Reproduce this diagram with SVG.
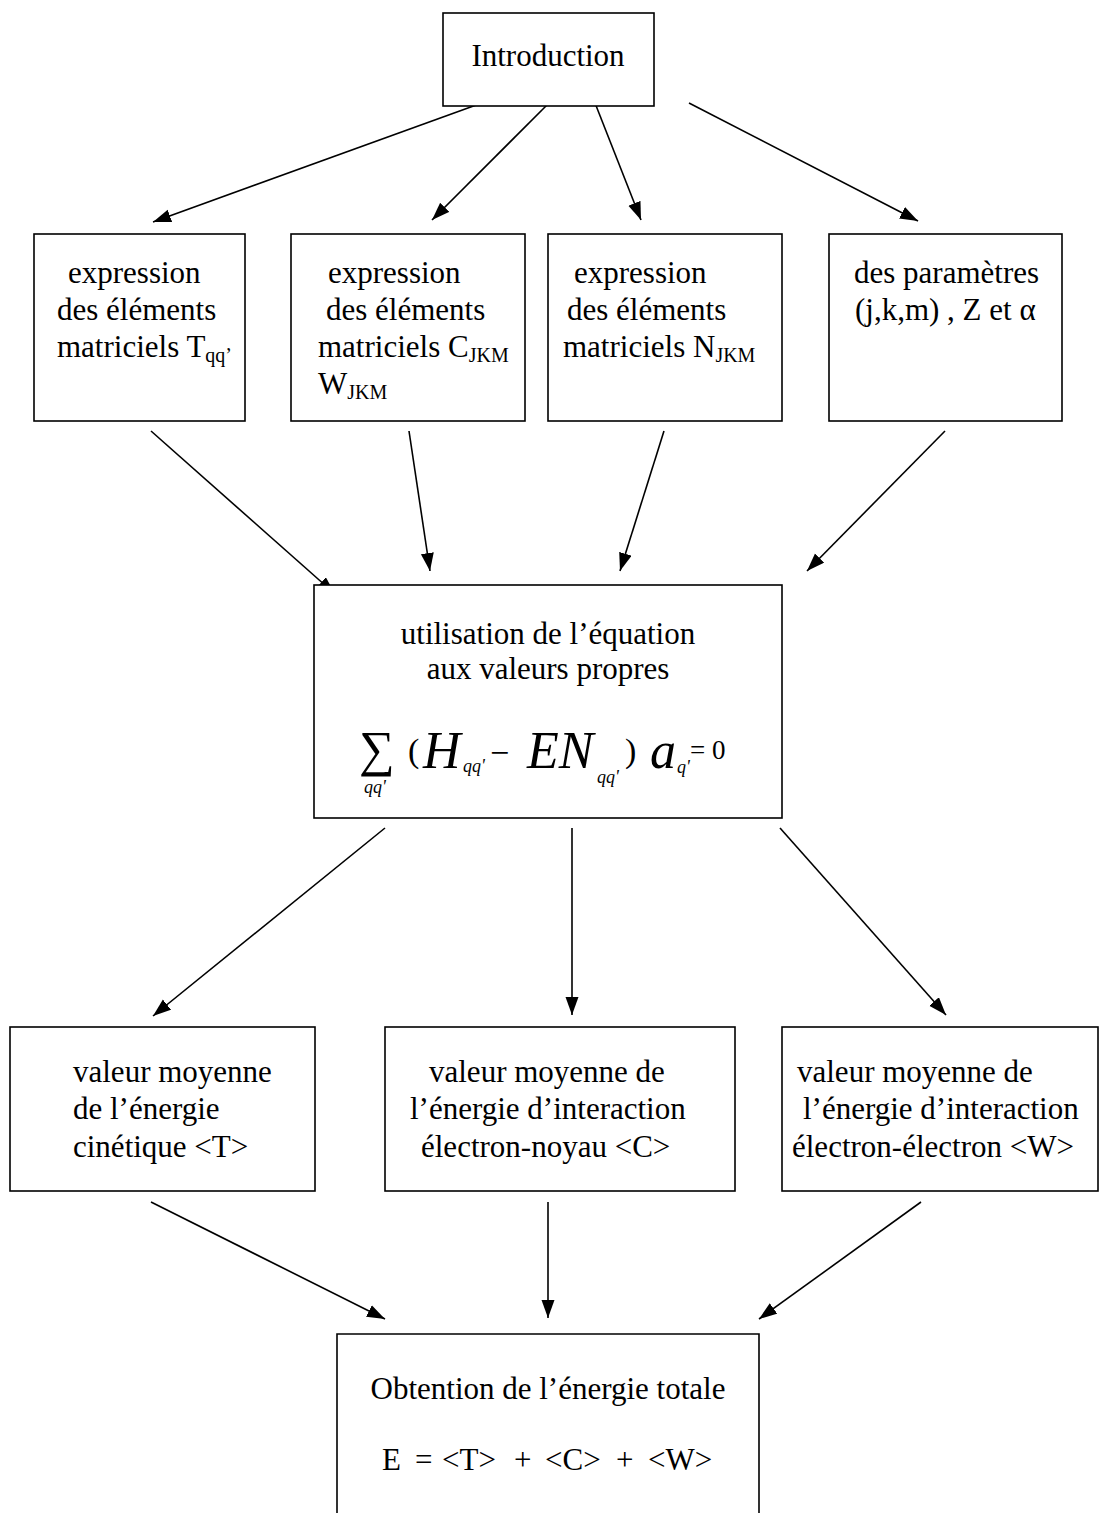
<svg xmlns="http://www.w3.org/2000/svg" width="1099" height="1513" viewBox="0 0 1099 1513">
<style>
.box{fill:#fff;stroke:#000;stroke-width:1.6}
.t{font-family:"Liberation Serif","Times New Roman",serif;font-size:31px;fill:#000}
.c{text-anchor:middle}
.sub{font-size:20px}
.i{font-style:italic}
.edge{stroke:#000;stroke-width:1.6;fill:none;marker-end:url(#ah)}
</style>
<defs>
<marker id="ah" markerUnits="userSpaceOnUse" markerWidth="20" markerHeight="14" refX="18" refY="6.5" orient="auto">
<path d="M0,0 L18,6.5 L0,13 z" fill="#000"/>
</marker>
</defs>
<rect width="1099" height="1513" fill="#fff"/>
<g id="connectors">
<line class="edge" x1="479" y1="104" x2="153" y2="222"/>
<line class="edge" x1="548" y1="104" x2="432" y2="220"/>
<line class="edge" x1="595" y1="103" x2="641" y2="220"/>
<line class="edge" x1="689" y1="103" x2="918" y2="221"/>
<line class="edge" x1="151" y1="431" x2="335" y2="594"/>
<line class="edge" x1="409" y1="431" x2="430" y2="571"/>
<line class="edge" x1="664" y1="431" x2="620" y2="571"/>
<line class="edge" x1="945" y1="431" x2="807" y2="571"/>
<line class="edge" x1="385" y1="828" x2="153" y2="1016"/>
<line class="edge" x1="572" y1="828" x2="572" y2="1015"/>
<line class="edge" x1="780" y1="828" x2="946" y2="1015"/>
<line class="edge" x1="151" y1="1202" x2="385" y2="1319"/>
<line class="edge" x1="548" y1="1202" x2="548" y2="1318"/>
<line class="edge" x1="921" y1="1202" x2="759" y2="1319"/>
</g>
<g id="introduction">
<rect class="box" x="443" y="13" width="211" height="93"/>
<text class="t c" x="548" y="66">Introduction</text>
</g>
<g id="expr-T">
<rect class="box" x="34" y="234" width="211" height="187"/>
<text class="t" x="68" y="283">expression</text>
<text class="t" x="57" y="320">des éléments</text>
<text class="t" x="57" y="357">matriciels T<tspan class="sub" dy="5">qq’</tspan></text>
</g>
<g id="expr-CW">
<rect class="box" x="291" y="234" width="234" height="187"/>
<text class="t" x="328" y="283">expression</text>
<text class="t" x="326" y="320">des éléments</text>
<text class="t" x="318" y="357">matriciels C<tspan class="sub" dy="5">JKM</tspan></text>
<text class="t" x="318" y="394">W<tspan class="sub" dy="5">JKM</tspan></text>
</g>
<g id="expr-N">
<rect class="box" x="548" y="234" width="234" height="187"/>
<text class="t" x="574" y="283">expression</text>
<text class="t" x="567" y="320">des éléments</text>
<text class="t" x="563" y="357">matriciels N<tspan class="sub" dy="5">JKM</tspan></text>
</g>
<g id="parametres">
<rect class="box" x="829" y="234" width="233" height="187"/>
<text class="t" x="854" y="283">des paramètres</text>
<text class="t" x="855" y="320">(j,k,m) , Z et α</text>
</g>
<g id="equation">
<rect class="box" x="314" y="585" width="468" height="233"/>
<text class="t c" x="548" y="644">utilisation de l’équation</text>
<text class="t c" x="548" y="679">aux valeurs propres</text>
<text class="t" x="359" y="766" style="font-size:50px">∑</text>
<text class="t i" x="364" y="793" style="font-size:18px">qq'</text>
<text class="t" x="408" y="762" style="font-size:34px">(</text>
<text class="t i" x="423" y="768" style="font-size:52px">H</text>
<text class="t i" x="463" y="772" style="font-size:18px">qq'</text>
<text class="t" x="490" y="764" style="font-size:34px">−</text>
<text class="t i" x="527" y="768" style="font-size:52px">EN</text>
<text class="t i" x="597" y="783" style="font-size:18px">qq'</text>
<text class="t" x="625" y="762" style="font-size:34px">)</text>
<text class="t i" x="650" y="768" style="font-size:52px">a</text>
<text class="t i" x="677" y="773" style="font-size:18px">q'</text>
<text class="t" x="690" y="759" style="font-size:27px">= 0</text>
</g>
<g id="cinetique">
<rect class="box" x="10" y="1027" width="305" height="164"/>
<text class="t" x="73" y="1082">valeur moyenne</text>
<text class="t" x="73" y="1119">de l’énergie</text>
<text class="t" x="73" y="1157">cinétique &lt;T&gt;</text>
</g>
<g id="noyau">
<rect class="box" x="385" y="1027" width="350" height="164"/>
<text class="t" x="429" y="1082">valeur moyenne de</text>
<text class="t" x="410" y="1119">l’énergie d’interaction</text>
<text class="t" x="421" y="1157">électron-noyau &lt;C&gt;</text>
</g>
<g id="electron">
<rect class="box" x="782" y="1027" width="316" height="164"/>
<text class="t" x="797" y="1082">valeur moyenne de</text>
<text class="t" x="803" y="1119">l’énergie d’interaction</text>
<text class="t" x="792" y="1157">électron-électron &lt;W&gt;</text>
</g>
<g id="total">
<path class="box" d="M337,1520 V1334 H759 V1520"/>
<text class="t c" x="548" y="1399">Obtention de l’énergie totale</text>
<text class="t" y="1470"><tspan x="382">E</tspan><tspan x="415">=</tspan><tspan x="442">&lt;T&gt;</tspan><tspan x="514">+</tspan><tspan x="545">&lt;C&gt;</tspan><tspan x="616">+</tspan><tspan x="648">&lt;W&gt;</tspan></text>
</g>
</svg>
